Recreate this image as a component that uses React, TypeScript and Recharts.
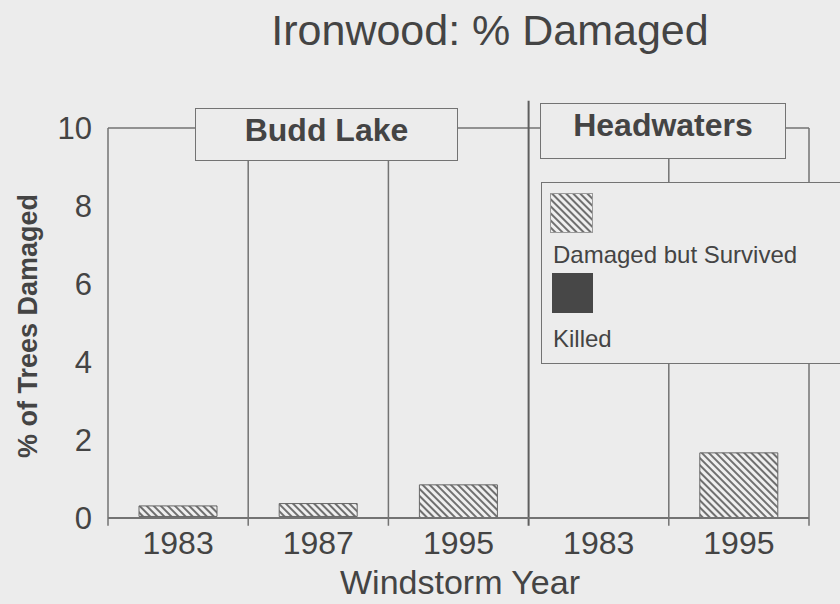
import * as React from "react";
import {
  BarChart,
  Bar,
  XAxis,
  YAxis,
  ReferenceLine,
  Legend,
} from "recharts";

// values (% of trees)
const sites = ["Budd Lake", "Budd Lake", "Budd Lake", "Headwaters", "Headwaters"];
const years = ["1983", "1987", "1995", "1983", "1995"];
const damagedSurvived = [0.27, 0.33, 0.85, 0, 1.67];
const killed = [0.04, 0.04, 0, 0, 0];
const yTicks = [0, 2, 4, 6, 8, 10];
const groups = ["Budd Lake", "Headwaters"];
const seriesNames = ["Damaged but Survived", "Killed"];

const INK = "#444";
const RULE = "#737373";
const BG = "#ececec";
const FONT = "'Liberation Sans', Arial, sans-serif";

const chartData = years.map((year, i) => ({
  key: `${sites[i]}-${year}-${i}`,
  year,
  killed: killed[i],
  damaged: damagedSurvived[i],
}));

const keys = chartData.map((d) => d.key);
const lastKey = keys[keys.length - 1];
// the thicker rule between the two sites sits at the start of the first Headwaters band
const siteBreak = keys[sites.indexOf("Headwaters")];

function HatchDefs({ id }: { id: string }) {
  return (
    <defs>
      <pattern
        id={id}
        patternUnits="userSpaceOnUse"
        width={5}
        height={5}
        patternTransform="rotate(-45)"
      >
        <rect width={5} height={5} fill="#efefef" />
        <line x1={1} y1={0} x2={1} y2={5} stroke="#626262" strokeWidth={1.8} />
      </pattern>
    </defs>
  );
}

function LegendBox() {
  return (
    <div style={{ position: "relative", width: "100%", height: "100%" }}>
      <svg width={44} height={41} style={{ position: "absolute", left: 8, top: 10 }}>
        <HatchDefs id="hatch-legend" />
        <rect x={0.5} y={0.5} width={42} height={39} fill="url(#hatch-legend)" stroke="#9a9a9a" />
      </svg>
      <div
        style={{
          position: "absolute",
          left: 11,
          top: 60,
          fontSize: 24,
          lineHeight: 1,
          whiteSpace: "nowrap",
          color: INK,
        }}
      >
        {seriesNames[0]}
      </div>
      <div
        style={{
          position: "absolute",
          left: 10,
          top: 90,
          width: 41,
          height: 40,
          background: "#474747",
        }}
      />
      <div
        style={{
          position: "absolute",
          left: 11,
          top: 144,
          fontSize: 24,
          lineHeight: 1,
          color: INK,
        }}
      >
        {seriesNames[1]}
      </div>
    </div>
  );
}

function GroupBox({
  label,
  left,
  top,
  width,
  height,
  textTop,
}: {
  label: string;
  left: number;
  top: number;
  width: number;
  height: number;
  textTop: number;
}) {
  return (
    <div
      style={{
        position: "absolute",
        left,
        top,
        width,
        height,
        boxSizing: "border-box",
        border: `1.5px solid ${RULE}`,
        background: BG,
      }}
    >
      <div
        style={{
          position: "absolute",
          left: 0,
          right: 0,
          top: textTop,
          textAlign: "center",
          fontSize: 32,
          fontWeight: 700,
          lineHeight: 1,
          color: INK,
        }}
      >
        {label}
      </div>
    </div>
  );
}

export default function App() {
  return (
    <div
      style={{
        position: "absolute",
        left: 0,
        top: 0,
        width: 840,
        height: 604,
        background: BG,
        fontFamily: FONT,
        color: INK,
        overflow: "hidden",
      }}
    >
      <BarChart
        width={840}
        height={604}
        data={chartData}
        margin={{ top: 128, right: 31, bottom: 26, left: 0 }}
        barSize={78}
      >
        <HatchDefs id="hatch" />
        <XAxis
          dataKey="key"
          tickFormatter={(_v: string, i: number) => years[i]}
          interval={0}
          height={60}
          tickLine={false}
          tickSize={0}
          tickMargin={13}
          axisLine={{ stroke: RULE, strokeWidth: 2 }}
          tick={{ fontSize: 32, fill: INK, fontFamily: FONT }}
        />
        <YAxis
          width={108}
          domain={[0, 10]}
          ticks={yTicks}
          interval={0}
          axisLine={false}
          tickLine={false}
          tickSize={0}
          tickMargin={16}
          tick={{ fontSize: 31, fill: INK, fontFamily: FONT }}
        />
        {/* frame top */}
        <ReferenceLine y={10} stroke={RULE} strokeWidth={1.5} ifOverflow="visible" />
        {/* band separators */}
        {keys.map((k) => (
          <ReferenceLine
            key={k}
            segment={[
              { x: k, y: -0.2 },
              { x: k, y: k === siteBreak ? 10.7 : 10 },
            ]}
            position="start"
            stroke={k === siteBreak ? "#5e5e5e" : RULE}
            strokeWidth={k === siteBreak ? 2 : 1.5}
            ifOverflow="visible"
          />
        ))}
        <ReferenceLine
          segment={[
            { x: lastKey, y: -0.2 },
            { x: lastKey, y: 10 },
          ]}
          position="end"
          stroke={RULE}
          strokeWidth={1.5}
          ifOverflow="visible"
        />
        <Bar
          dataKey="killed"
          name={seriesNames[1]}
          stackId="a"
          fill="#474747"
          isAnimationActive={false}
        />
        <Bar
          dataKey="damaged"
          name={seriesNames[0]}
          stackId="a"
          fill="url(#hatch)"
          stroke="#666"
          strokeWidth={1}
          isAnimationActive={false}
        />
        <Legend
          layout="vertical"
          align="center"
          verticalAlign="middle"
          content={() => <LegendBox />}
          wrapperStyle={{
            position: "absolute",
            left: 541,
            top: 182,
            width: 320,
            height: 182,
            boxSizing: "border-box",
            border: `1.5px solid ${RULE}`,
            background: BG,
          }}
        />
      </BarChart>

      <div
        style={{
          position: "absolute",
          left: 0,
          width: 980,
          top: 9,
          textAlign: "center",
          fontSize: 43,
          lineHeight: 1,
          color: INK,
        }}
      >
        Ironwood: % Damaged
      </div>

      <GroupBox label={groups[0]} left={195} top={108} width={263} height={53} textTop={5} />
      <GroupBox label={groups[1]} left={540} top={103} width={246} height={56} textTop={5} />

      <div
        style={{
          position: "absolute",
          left: 0,
          width: 920,
          top: 565,
          textAlign: "center",
          fontSize: 34,
          lineHeight: 1,
          color: INK,
        }}
      >
        Windstorm Year
      </div>

      <div
        style={{
          position: "absolute",
          left: 28 - 170,
          top: 326 - 14,
          width: 340,
          height: 28,
          transform: "rotate(-90deg)",
          textAlign: "center",
          fontSize: 27,
          fontWeight: 700,
          lineHeight: "28px",
          color: INK,
          whiteSpace: "nowrap",
        }}
      >
        % of Trees Damaged
      </div>
    </div>
  );
}
